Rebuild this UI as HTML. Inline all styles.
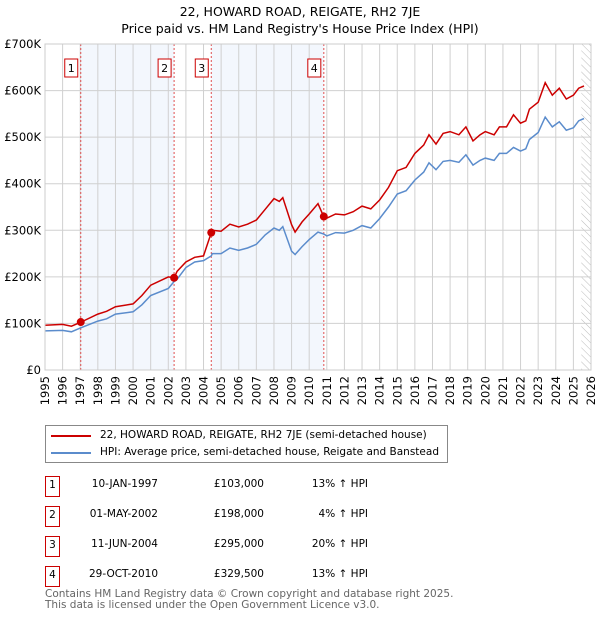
<!DOCTYPE html>
<html><head><meta charset="utf-8"><style>
body{margin:0;background:#fff;font-family:"DejaVu Sans","Liberation Sans",sans-serif;}
#wrap{position:relative;width:600px;height:620px;}
.t{position:absolute;font-size:12px;color:#000;}
</style></head><body>
<div id="wrap">
<div class="t" style="left:0;width:600px;text-align:center;top:3px;font-size:12.5px;line-height:17px">22, HOWARD ROAD, REIGATE, RH2 7JE<br>Price paid vs. HM Land Registry's House Price Index (HPI)</div>
<svg id="chart" width="600" height="420" style="position:absolute;left:0;top:0"></svg>
<div style="position:absolute;left:45px;top:425px;width:401px;height:36px;border:1px solid #888;font-size:10.5px">
<div style="position:absolute;left:5px;top:9px;width:40px;height:2px;background:#cc0000"></div>
<div class="t" style="left:54px;top:3px;font-size:10.5px">22, HOWARD ROAD, REIGATE, RH2 7JE (semi-detached house)</div>
<div style="position:absolute;left:5px;top:26px;width:40px;height:2px;background:#5b8ccc"></div>
<div class="t" style="left:54px;top:20px;font-size:10.5px">HPI: Average price, semi-detached house, Reigate and Banstead</div>
</div>
<div id="rows"></div>
<div class="t" style="left:45px;top:589px;font-size:10.5px;color:#666;line-height:10.5px">Contains HM Land Registry data © Crown copyright and database right 2025.<br>This data is licensed under the Open Government Licence v3.0.</div>
</div>
<script>
const years=[1995,1996,1996.5,1997,1998,1998.5,1999,2000,2000.5,2001,2002,2002.33,2002.5,2003,2003.5,2004,2004.44,2004.5,2005,2005.5,2006,2006.5,2007,2007.5,2008,2008.3,2008.5,2009,2009.2,2009.6,2010,2010.5,2010.83,2011,2011.5,2012,2012.5,2013,2013.5,2014,2014.5,2015,2015.5,2016,2016.5,2016.8,2017.2,2017.6,2018,2018.5,2018.9,2019.3,2019.7,2020,2020.5,2020.8,2021.2,2021.6,2022,2022.3,2022.5,2023,2023.4,2023.8,2024.2,2024.6,2025,2025.3,2025.6];
const hpi=[84,85,82,90,105,110,120,125,140,160,175,190,195,220,232,235,245,250,250,262,257,262,270,290,305,300,308,255,248,265,280,296,292,288,295,294,300,310,305,325,350,378,385,408,425,445,430,448,450,446,462,440,450,455,450,465,465,478,470,475,495,510,543,522,533,515,520,535,540];
const price=[96,98,94,102,120,126,136,142,160,182,200,198,212,232,242,245,295,300,298,313,307,313,322,345,368,362,370,312,296,318,335,357,329,326,335,333,340,352,346,365,392,428,435,465,483,505,485,508,512,505,522,492,505,512,505,522,522,548,530,535,560,575,617,590,605,582,590,605,610];
const saleYears=[1997.03,2002.33,2004.44,2010.83];
const salePrices=[103,198,295,329.5];
const saleLabels=["1","2","3","4"];
const saleDates=["10-JAN-1997","01-MAY-2002","11-JUN-2004","29-OCT-2010"];
const salePriceText=["£103,000","£198,000","£295,000","£329,500"];
const saleHpi=["13% ↑ HPI","4% ↑ HPI","20% ↑ HPI","13% ↑ HPI"];
const yTicks=[0,100,200,300,400,500,600,700];
const yTickLabels=["£0","£100K","£200K","£300K","£400K","£500K","£600K","£700K"];
const X0=45,X1=591,Y0=370,Y1=44;
const xs=y=>X0+(y-1995)/31*(X1-X0);
const ys=v=>Y0-v/700*(Y0-Y1);
const svg=document.getElementById('chart');const NS='http://www.w3.org/2000/svg';
function mk(tag,at,parent){const e=document.createElementNS(NS,tag);for(const k in at)e.setAttribute(k,at[k]);(parent||svg).appendChild(e);return e;}
let e;
e=mk('defs',{});e.innerHTML='<pattern id="hat" width="5" height="5" patternUnits="userSpaceOnUse" patternTransform="rotate(-45)"><line x1="0" y1="0" x2="0" y2="5" stroke="#bbb" stroke-width="1"/></pattern>';
e=mk('rect',{x:xs(saleYears[0]),y:Y1,width:xs(saleYears[1])-xs(saleYears[0]),height:Y0-Y1,fill:'#eef3fc',opacity:0.7});


e=mk('rect',{x:xs(saleYears[2]),y:Y1,width:xs(saleYears[3])-xs(saleYears[2]),height:Y0-Y1,fill:'#eef3fc',opacity:0.7});


e=mk('rect',{x:xs(2025.45),y:Y1,width:X1-xs(2025.45),height:Y0-Y1,fill:'url(#hat)'});


for(let y=1995;y<=2026;y++){
 e=mk('line',{x1:xs(y),x2:xs(y),y1:Y1,y2:Y0,stroke:'#d0d0d0','stroke-width':1});
 
 
 const tx=xs(y);
 e=mk('text',{x:0,y:0,transform:`translate(${tx+4},${Y0+6}) rotate(-90)`,'text-anchor':'end','font-size':11.5,'font-family':'DejaVu Sans, sans-serif'});
 e.textContent=y;
 
 
}
yTicks.forEach((v,i)=>{
 e=mk('line',{x1:X0,x2:X1,y1:ys(v),y2:ys(v),stroke:'#d0d0d0','stroke-width':1});
 
 
 e=mk('text',{x:X0-4,y:ys(v)+4,'text-anchor':'end','font-size':11.5,'font-family':'DejaVu Sans, sans-serif'});
 e.textContent=yTickLabels[i];
 
 
});
saleYears.forEach((sy,i)=>{
 e=mk('line',{x1:xs(sy),x2:xs(sy),y1:Y1,y2:Y0,stroke:'#e05050','stroke-width':1,'stroke-dasharray':'2,2'});
 
 
});
function path(arr,col,name){
 const d=years.map((y,i)=>(i?'L':'M')+xs(y).toFixed(1)+','+ys(arr[i]).toFixed(1)).join('');
 e=mk('path',{d,fill:'none',stroke:col,'stroke-width':1.5});
 
 
}
path(hpi,'#5b8ccc','hpi-line');
path(price,'#cc0000','price-line');
saleYears.forEach((sy,i)=>{
 e=mk('circle',{cx:xs(sy),cy:ys(salePrices[i]),r:4,fill:'#cc0000'});
 
 
 const bx=xs(sy)-16;
 e=mk('rect',{x:bx,y:59,width:13,height:18,fill:'#fff',stroke:'#cc0000','stroke-width':1});
 
 
 e=mk('text',{x:bx+6.5,y:72,'text-anchor':'middle','font-size':11,'font-family':'DejaVu Sans, sans-serif'});
 e.textContent=saleLabels[i];
 
 
});
e=mk('rect',{x:X0,y:Y1,width:X1-X0,height:Y0-Y1,fill:'none',stroke:'#ccc'});
const rows=document.getElementById('rows');
saleDates.forEach((d,i)=>{
 const top=476+i*30;
 const r=document.createElement('div');
 
 
 r.style.cssText=`position:absolute;left:0;top:${top}px;width:600px;height:22px;font-size:10.5px`;
 r.innerHTML=`<div style="position:absolute;left:45px;top:0;width:13px;height:19px;border:1px solid #cc0000;text-align:center;line-height:17px">${saleLabels[i]}</div>
 <div style="position:absolute;left:60px;width:98px;text-align:right;top:2px">${d}</div>
 <div style="position:absolute;left:180px;width:84px;text-align:right;top:2px">${salePriceText[i]}</div>
 <div style="position:absolute;left:290px;width:78px;text-align:right;top:2px">${saleHpi[i]}</div>`;
 rows.appendChild(r);
});
</script>
</body></html>
